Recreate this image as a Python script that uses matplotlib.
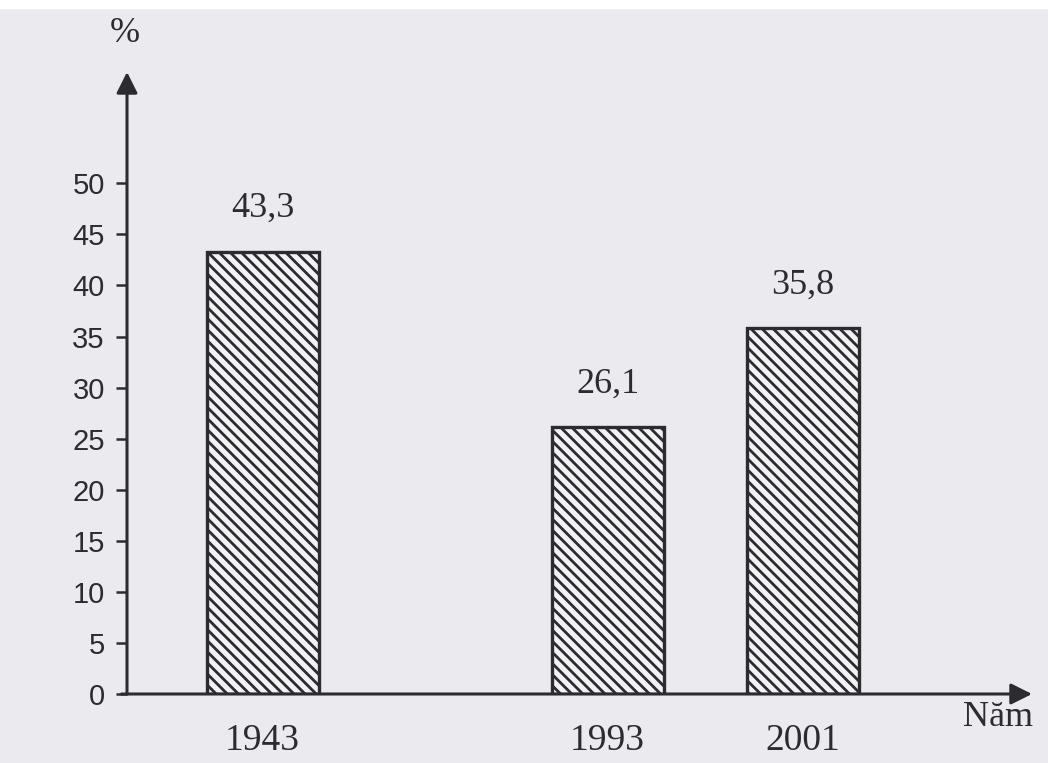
import matplotlib.pyplot as plt
from matplotlib.patches import Rectangle

years = ['1943', '1993', '2001']
values = [43.3, 26.1, 35.8]
value_labels = ['43,3', '26,1', '35,8']
y_ticks = [0, 5, 10, 15, 20, 25, 30, 35, 40, 45, 50]

# bar centres along the axis (not proportional to the years in the original)
bar_pos = [1.355, 4.805, 6.755]
bar_width = 1.12

ink = '#2b2b30'
paper = '#ebebef'

fig = plt.figure(figsize=(10.48, 7.63), dpi=100, facecolor=paper)
fig.patches.append(Rectangle((0, 0.99), 1, 0.01, transform=fig.transFigure,
                             color='white', zorder=0))
ax = fig.add_axes([127 / 1048, 69 / 763, 905 / 1048, 622 / 763])
ax.set_facecolor('none')

plt.rcParams['hatch.linewidth'] = 2.0
plt.rcParams['hatch.color'] = '#4a4a52'
ax.bar(bar_pos, values, width=bar_width, facecolor='#f2f2f4',
       edgecolor=ink, linewidth=2.4, hatch='\\\\\\', zorder=3)

for x, v, lab in zip(bar_pos, values, value_labels):
    ax.annotate(lab, (x, v), xytext=(0, 31), textcoords='offset points',
                ha='center', va='center', fontsize=26,
                family='Liberation Serif', color=ink)

ax.set_xlim(0, 9.05)
ax.set_ylim(0, 60.9)
for s in ax.spines.values():
    s.set_visible(False)

# axes drawn as arrows
ax.annotate('', xy=(0, 1), xytext=(0, 0), xycoords='axes fraction',
            arrowprops=dict(arrowstyle='-|>', color=ink, lw=2.2,
                            mutation_scale=32, shrinkA=0, shrinkB=0))
ax.annotate('', xy=(1, 0), xytext=(-0.006, 0), xycoords='axes fraction',
            arrowprops=dict(arrowstyle='-|>', color=ink, lw=2.2,
                            mutation_scale=32, shrinkA=0, shrinkB=0))

ax.set_yticks(y_ticks)
ax.set_yticklabels([str(t) for t in y_ticks], family='Liberation Sans',
                   fontsize=21, color=ink)
ax.tick_params(axis='y', direction='out', length=8, width=1.8, color=ink, pad=8)

ax.set_xticks(bar_pos)
ax.set_xticklabels(years, family='Liberation Serif', fontsize=27, color=ink)
ax.tick_params(axis='x', length=0, pad=21)

fig.text(125 / 1048, 1 - 33 / 763, '%', ha='center', va='center',
         fontsize=26, family='Liberation Serif', color=ink)
fig.text(963 / 1048, 1 - 718 / 763, 'Năm', ha='left', va='center',
         fontsize=26, family='Liberation Serif', color=ink)

fig.savefig('out.png', dpi=100, facecolor=paper)
